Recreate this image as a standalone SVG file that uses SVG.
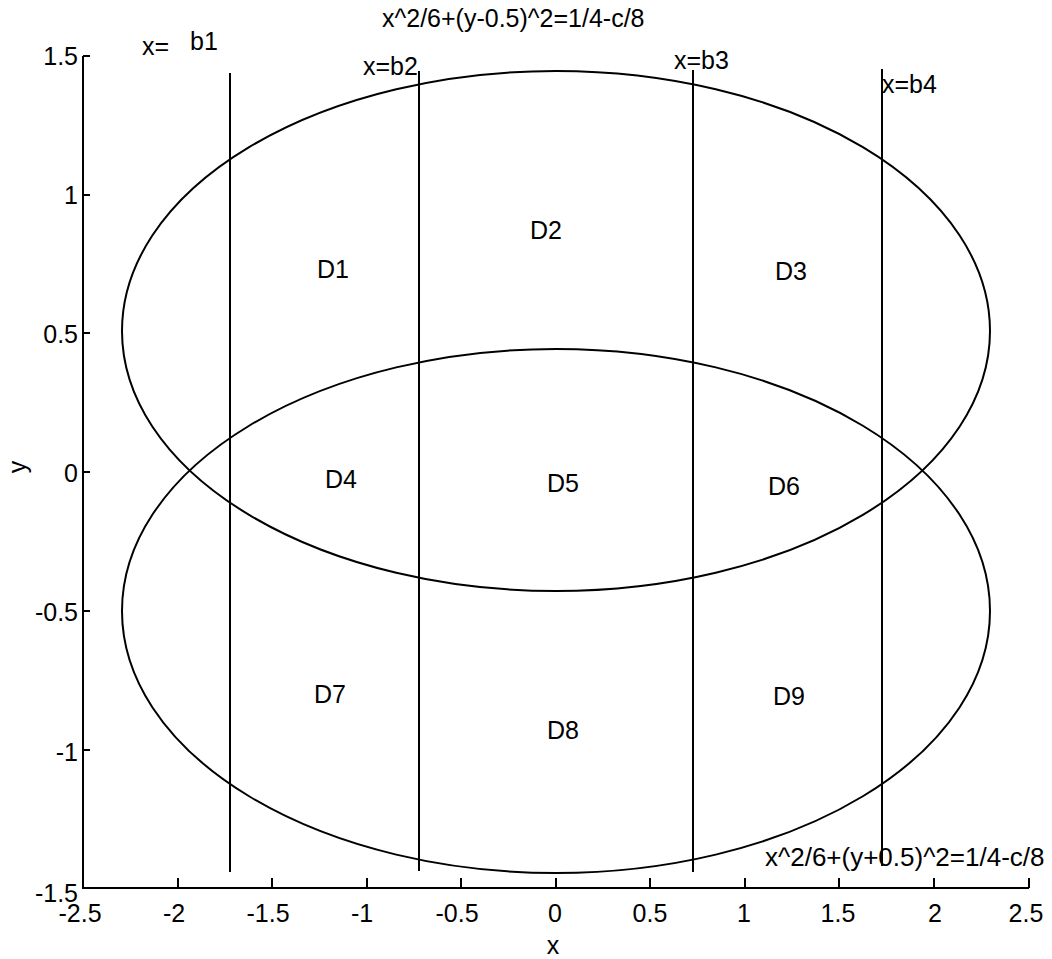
<svg xmlns="http://www.w3.org/2000/svg" width="1052" height="959" viewBox="0 0 1052 959">
<style>
text{font-family:"Liberation Sans",Arial,sans-serif;font-size:25px;fill:#000}
.ln{stroke:#000;stroke-width:2;fill:none}
.tk{stroke:#000;stroke-width:2}
.xl{text-anchor:middle}
.yl{text-anchor:end}
.rl{text-anchor:middle}
</style>
<rect width="1052" height="959" fill="#fff"/>
<g id="axes">
<path class="ln" d="M83,56 V888 H1029"/>
<g class="tk">
<path d="M83,56 h7 M83,195 h7 M83,333 h7 M83,472 h7 M83,611 h7 M83,750 h7"/>
<path d="M178,888 v-10 M272,888 v-10 M367,888 v-10 M461,888 v-10 M556,888 v-10 M650,888 v-10 M745,888 v-10 M839,888 v-10 M934,888 v-10 M1029,888 v-10"/>
</g>
<g class="yl">
<text x="78" y="65">1.5</text>
<text x="78" y="204">1</text>
<text x="78" y="343">0.5</text>
<text x="78" y="482">0</text>
<text x="78" y="621">-0.5</text>
<text x="78" y="761">-1</text>
<text x="78" y="902">-1.5</text>
</g>
<g class="xl">
<text x="80" y="922">-2.5</text>
<text x="174" y="922">-2</text>
<text x="268" y="922">-1.5</text>
<text x="362" y="922">-1</text>
<text x="457" y="922">-0.5</text>
<text x="555" y="922">0</text>
<text x="650" y="922">0.5</text>
<text x="744" y="922">1</text>
<text x="838" y="922">1.5</text>
<text x="935" y="922">2</text>
<text x="1026" y="922">2.5</text>
</g>
<text class="xl" x="553" y="954">x</text>
<text class="xl" x="0" y="0" transform="translate(26,467) rotate(-90)">y</text>
</g>
<g id="ellipse-upper">
<ellipse class="ln" cx="556" cy="331" rx="434" ry="260"/>
<text x="382" y="27">x^2/6+(y-0.5)^2=1/4-c/8</text>
</g>
<g id="ellipse-lower">
<ellipse class="ln" cx="556" cy="611" rx="434" ry="262"/>
<text x="765" y="866" style="font-size:26px">x^2/6+(y+0.5)^2=1/4-c/8</text>
</g>
<g id="connectors">
<path class="ln" d="M230,73 V872"/>
<path class="ln" d="M419,71 V871"/>
<path class="ln" d="M693,70 V872"/>
<path class="ln" d="M882,69 V866"/>
</g>
<g id="line-b1"><text><tspan x="142" y="55">x=</tspan><tspan x="190" y="50">b1</tspan></text></g>
<g id="line-b2"><text x="363" y="75">x=b2</text></g>
<g id="line-b3"><text x="674" y="69">x=b3</text></g>
<g id="line-b4"><text x="882" y="93">x=b4</text></g>
<g id="D1"><text class="rl" x="333" y="278">D1</text></g>
<g id="D2"><text class="rl" x="546" y="239">D2</text></g>
<g id="D3"><text class="rl" x="791" y="280">D3</text></g>
<g id="D4"><text class="rl" x="341" y="488">D4</text></g>
<g id="D5"><text class="rl" x="563" y="492">D5</text></g>
<g id="D6"><text class="rl" x="784" y="495">D6</text></g>
<g id="D7"><text class="rl" x="330" y="703">D7</text></g>
<g id="D8"><text class="rl" x="563" y="739">D8</text></g>
<g id="D9"><text class="rl" x="789" y="705">D9</text></g>
</svg>
